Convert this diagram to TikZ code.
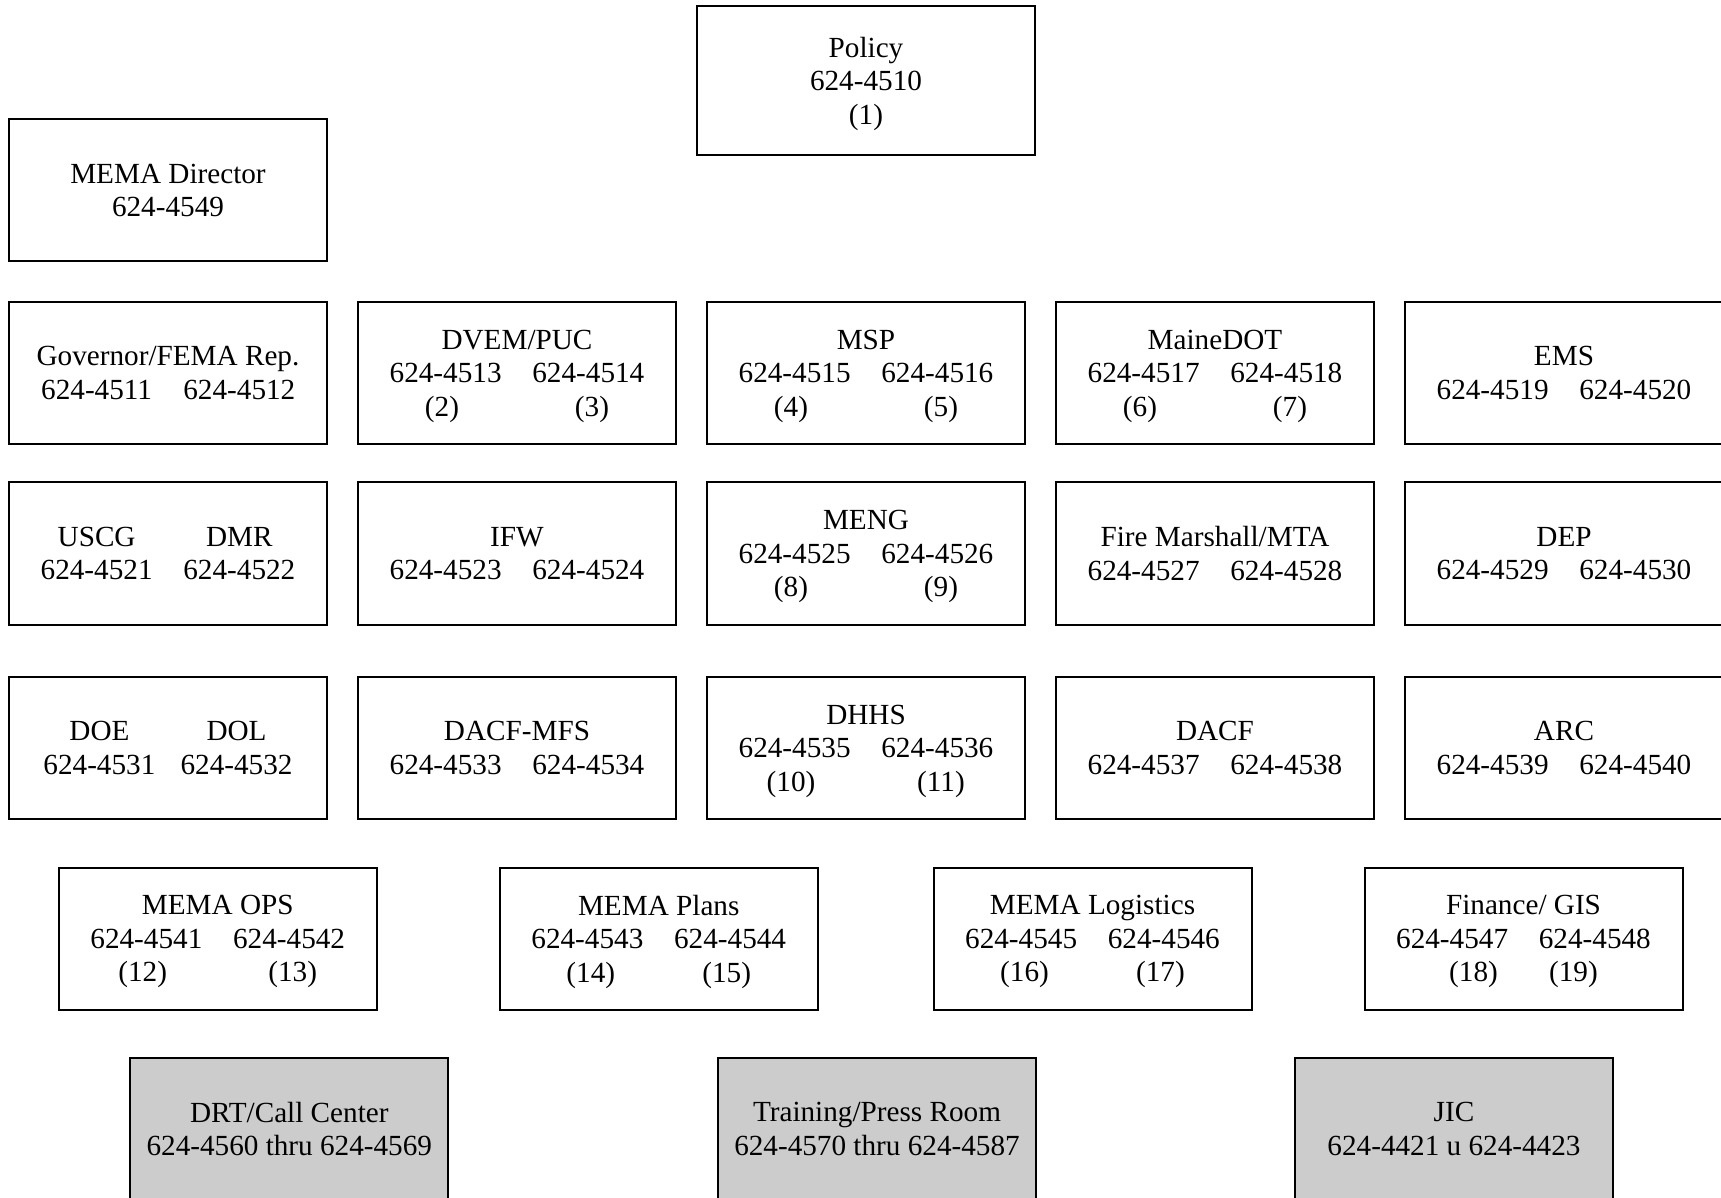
\documentclass[tikz,border=0pt]{standalone}
\usepackage{fontspec}
\setmainfont{Liberation Serif}
\definecolor{boxgray}{RGB}{204,204,204}
\newcommand\numpair[3][15.4pt]{\makebox[3.833em]{#2}\hspace{#1}\makebox[3.833em]{#3}}
\newcommand\refpair[3]{\raisebox{0pt}[\height][0pt]{\makebox[#1]{#2}\makebox[#1]{#3}}}
\newcommand\nodepth[1]{\raisebox{0pt}[\height][0pt]{#1}}
\begin{document}
\begin{tikzpicture}[x=0.5pt,y=-0.5pt,
  box/.style={draw=black, line width=1pt, minimum width=159pt, minimum height=71pt,
              inner sep=0pt, align=center, font=\fontsize{14.6}{16.8}\selectfont},
  graybox/.style={box, fill=boxgray}]
\fill[white] (0,0) rectangle (1721,1198);
\useasboundingbox (0,0) rectangle (1721,1198);
\clip (0,0) rectangle (1721,1198);
% top
\node[box, minimum width=169pt, minimum height=74.5pt] (policy) at (866,80.5) {Policy\\624-4510\\\nodepth{(1)}};
\node[box] (director) at (168,190.5) {MEMA Director\\624-4549};
% row 1
\node[box] (gov) at (168,373) {Governor/FEMA Rep.\\\numpair{624-4511}{624-4512}};
\node[box] (dvem) at (517,373) {DVEM/PUC\\\numpair{624-4513}{624-4514}\\\refpair{75pt}{(2)}{(3)}};
\node[box] (msp) at (866,373) {MSP\\\numpair{624-4515}{624-4516}\\\refpair{75pt}{(4)}{(5)}};
\node[box] (dot) at (1215,373) {MaineDOT\\\numpair{624-4517}{624-4518}\\\refpair{75pt}{(6)}{(7)}};
\node[box] (ems) at (1564,373) {EMS\\\numpair{624-4519}{624-4520}};
% row 2
\node[box] (uscg) at (168,553.5) {\numpair{USCG}{DMR}\\\numpair{624-4521}{624-4522}};
\node[box] (ifw) at (517,553.5) {IFW\\\numpair{624-4523}{624-4524}};
\node[box] (meng) at (866,553.5) {MENG\\\numpair{624-4525}{624-4526}\\\refpair{75pt}{(8)}{(9)}};
\node[box] (fire) at (1215,553.5) {Fire Marshall/MTA\\\numpair{624-4527}{624-4528}};
\node[box] (dep) at (1564,553.5) {DEP\\\numpair{624-4529}{624-4530}};
% row 3
\node[box] (doe) at (168,748) {\numpair[12.6pt]{DOE}{DOL}\\\numpair[12.6pt]{624-4531}{624-4532}};
\node[box] (mfs) at (517,748) {DACF-MFS\\\numpair{624-4533}{624-4534}};
\node[box] (dhhs) at (866,748) {DHHS\\\numpair{624-4535}{624-4536}\\\refpair{75pt}{(10)}{(11)}};
\node[box] (dacf) at (1215,748) {DACF\\\numpair{624-4537}{624-4538}};
\node[box] (arc) at (1564,748) {ARC\\\numpair{624-4539}{624-4540}};
% row 4
\node[box] (ops) at (217.75,938.5) {MEMA OPS\\\numpair{624-4541}{624-4542}\\\refpair{75pt}{(12)}{(13)}};
\node[box] (plans) at (658.75,938.5) {MEMA Plans\\\numpair{624-4543}{624-4544}\\\refpair{68pt}{(14)}{(15)}};
\node[box] (logi) at (1092.5,938.5) {MEMA Logistics\\\numpair{624-4545}{624-4546}\\\refpair{68pt}{(16)}{(17)}};
\node[box] (fin) at (1523.5,938.5) {Finance/ GIS\\\numpair{624-4547}{624-4548}\\\refpair{50pt}{(18)}{(19)}};
% row 5
\node[graybox] (drt) at (289.3,1129) {DRT/Call Center\\624-4560 thru 624-4569};
\node[graybox] (press) at (877,1129) {Training/Press Room\\624-4570 thru 624-4587};
\node[graybox] (jic) at (1454,1129) {JIC\\624-4421 u 624-4423};
\end{tikzpicture}
\end{document}
